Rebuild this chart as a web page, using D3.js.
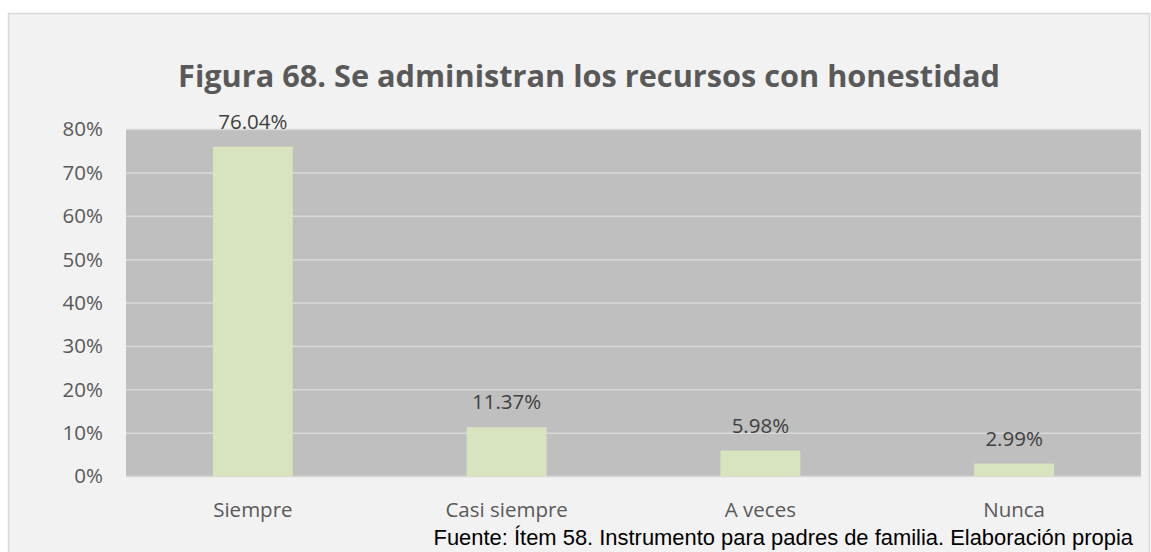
<!DOCTYPE html>
<html><head><meta charset="utf-8">
<script src="https://cdn.jsdelivr.net/npm/d3@7"></script>
<style>html,body{margin:0;padding:0;background:#fff;}svg{display:block;}</style>
</head><body>
<script>
const categories = ["Siempre", "Casi siempre", "A veces", "Nunca"];
const values = [76.04, 11.37, 5.98, 2.99];
const tickValues = [0, 10, 20, 30, 40, 50, 60, 70, 80];
const title = "Figura 68. Se administran los recursos con honestidad";
const footer = "Fuente: Ítem 58. Instrumento para padres de familia. Elaboración propia";

const W = 1151, H = 552;
const svg = d3.select("body").append("svg").attr("width", W).attr("height", H);

svg.append("rect").attr("x", 8.5).attr("y", 13.5).attr("width", 1141).attr("height", 560)
  .attr("fill", "#f2f2f2").attr("stroke", "#d9d9d9").attr("stroke-width", 1.5);

const plot = {left: 126, right: 1141, top: 129.5, bottom: 476.5};
const x = d3.scaleBand().domain(categories).range([plot.left, plot.right]).paddingInner(0.685).paddingOuter(0.3425);
const y = d3.scaleLinear().domain([0, 80]).range([plot.bottom, plot.top]);

svg.append("rect").attr("x", plot.left).attr("y", plot.top).attr("width", plot.right - plot.left)
  .attr("height", plot.bottom - plot.top).attr("fill", "#bfbfbf");

svg.append("g").selectAll("line").data(tickValues).join("line")
  .attr("x1", plot.left).attr("x2", plot.right)
  .attr("y1", d => y(d)).attr("y2", d => y(d))
  .attr("stroke", "#d9d9d9").attr("stroke-width", 1.5);

const font = "'Open Sans', sans-serif";
const fs = 20.5;
svg.append("g").selectAll("text").data(tickValues).join("text")
  .attr("x", 103).attr("y", d => y(d)).attr("dy", "0.34em")
  .attr("text-anchor", "end").attr("font-family", font).attr("font-size", fs)
  .attr("fill", "#595959").text(d => d + "%");

svg.append("g").selectAll("rect").data(values).join("rect")
  .attr("x", (d, i) => x(categories[i])).attr("width", x.bandwidth())
  .attr("y", d => y(d)).attr("height", d => y(0) - y(d))
  .attr("fill", "#d7e4bd");

svg.append("g").selectAll("text").data(values).join("text")
  .attr("x", (d, i) => x(categories[i]) + x.bandwidth() / 2)
  .attr("y", d => y(d) - 18)
  .attr("text-anchor", "middle").attr("font-family", font).attr("font-size", fs)
  .attr("fill", "#404040").text(d => d.toFixed(2) + "%");

svg.append("g").selectAll("text").data(categories).join("text")
  .attr("x", d => x(d) + x.bandwidth() / 2).attr("y", 516.5)
  .attr("text-anchor", "middle").attr("font-family", font).attr("font-size", fs)
  .attr("fill", "#595959").text(d => d);

function fit(t, target, start) {
  t.attr("font-size", start);
  const w = t.node().getComputedTextLength();
  t.attr("font-size", start * target / w);
}

const tt = svg.append("text").attr("x", 589).attr("y", 87).attr("text-anchor", "middle")
  .attr("font-family", font).attr("font-weight", "bold").attr("fill", "#595959").text(title);
fit(tt, 822, 30);

const ft = svg.append("text").attr("x", 1133).attr("y", 545).attr("text-anchor", "end")
  .attr("font-family", "'Liberation Sans', Arial, sans-serif").attr("fill", "#000").text(footer);
fit(ft, 700, 17);
</script>
</body></html>
